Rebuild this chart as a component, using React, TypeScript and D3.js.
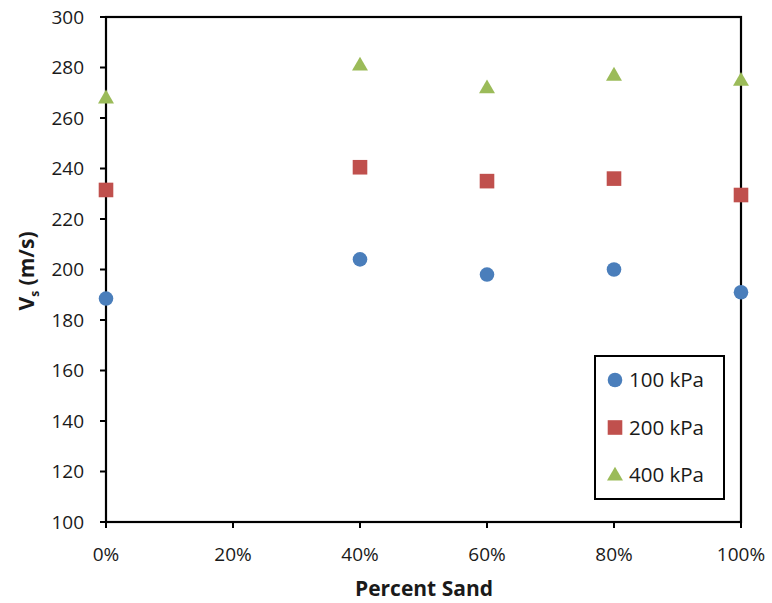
import React from "react";
import * as d3 from "d3";

const percentSand = [0, 0.4, 0.6, 0.8, 1.0];
const vs100 = [188.5, 204, 198, 200, 191];
const vs200 = [231.5, 240.5, 235, 236, 229.5];
const vs400 = [268, 281, 272, 277, 275];
const seriesNames = ["100 kPa", "200 kPa", "400 kPa"];
const xTicks = [0, 0.2, 0.4, 0.6, 0.8, 1.0];
const yTicks = [100, 120, 140, 160, 180, 200, 220, 240, 260, 280, 300];

const colors = ["#4A7EBB", "#C0504D", "#9BBB59"];
const font = "'Open Sans', 'Liberation Sans', sans-serif";

export default function App() {
  const W = 772, H = 603;
  const left = 106, right = 741, top = 17, bottom = 522;
  const x = d3.scaleLinear().domain([0, 1]).range([left, right]);
  const y = d3.scaleLinear().domain([100, 300]).range([bottom, top]);
  const series = [vs100, vs200, vs400];

  const marker = (k: number, cx: number, cy: number, key: string) => {
    if (k === 0) return <circle key={key} cx={cx} cy={cy} r={7.3} fill={colors[0]} />;
    if (k === 1) return <rect key={key} x={cx - 7.3} y={cy - 7.3} width={14.6} height={14.6} fill={colors[1]} />;
    const tri = d3.symbol(d3.symbolTriangle, 110)();
    return <path key={key} d={tri as string} transform={`translate(${cx},${cy + 1})`} fill={colors[2]} />;
  };

  return (
    <svg width={W} height={H} style={{ position: "absolute", left: 0, top: 0, background: "#fff" }}>
      <rect x={0} y={0} width={W} height={H} fill="#fff" />
      {/* frame */}
      <rect x={left} y={top} width={right - left} height={bottom - top} fill="none" stroke="#000" strokeWidth={2.2} />
      {/* y ticks */}
      {yTicks.map((t) => (
        <g key={"y" + t}>
          <line x1={left - 6} x2={left} y1={y(t)} y2={y(t)} stroke="#000" strokeWidth={2} />
          <text x={left - 22} y={y(t)} dy="0.35em" textAnchor="end" fontFamily={font} fontSize={19} fill="#1a1a1a">
            {t}
          </text>
        </g>
      ))}
      {/* x ticks */}
      {xTicks.map((t) => (
        <g key={"x" + t}>
          <line x1={x(t)} x2={x(t)} y1={bottom} y2={bottom + 6} stroke="#000" strokeWidth={2} />
          <text x={x(t)} y={bottom + 32} dy="0.35em" textAnchor="middle" fontFamily={font} fontSize={19} fill="#1a1a1a">
            {d3.format(".0%")(t)}
          </text>
        </g>
      ))}
      {/* data */}
      {series.map((vals, k) =>
        vals.map((v, i) => marker(k, x(percentSand[i]), y(v), `m${k}-${i}`))
      )}
      {/* axis titles */}
      <text x={424} y={589} dy="0.35em" textAnchor="middle" fontFamily={font} fontWeight="bold" fontSize={21} fill="#1a1a1a">
        Percent Sand
      </text>
      <text transform={`translate(27,271) rotate(-90)`} textAnchor="middle" dy="0.35em" fontFamily={font} fontWeight="bold" fontSize={21} fill="#1a1a1a">
        V<tspan fontSize={12} dy="5">s</tspan><tspan dy="-5"> (m/s)</tspan>
      </text>
      {/* legend */}
      <rect x={595} y={356} width={129} height={143} fill="#fff" stroke="#000" strokeWidth={2} />
      {seriesNames.map((n, k) => {
        const ly = 380 + k * 47.5;
        return (
          <g key={"l" + k}>
            {marker(k, 615, ly, "lm" + k)}
            <text x={629} y={ly} dy="0.35em" fontFamily={font} fontSize={20.5} fill="#1a1a1a">
              {n}
            </text>
          </g>
        );
      })}
    </svg>
  );
}
